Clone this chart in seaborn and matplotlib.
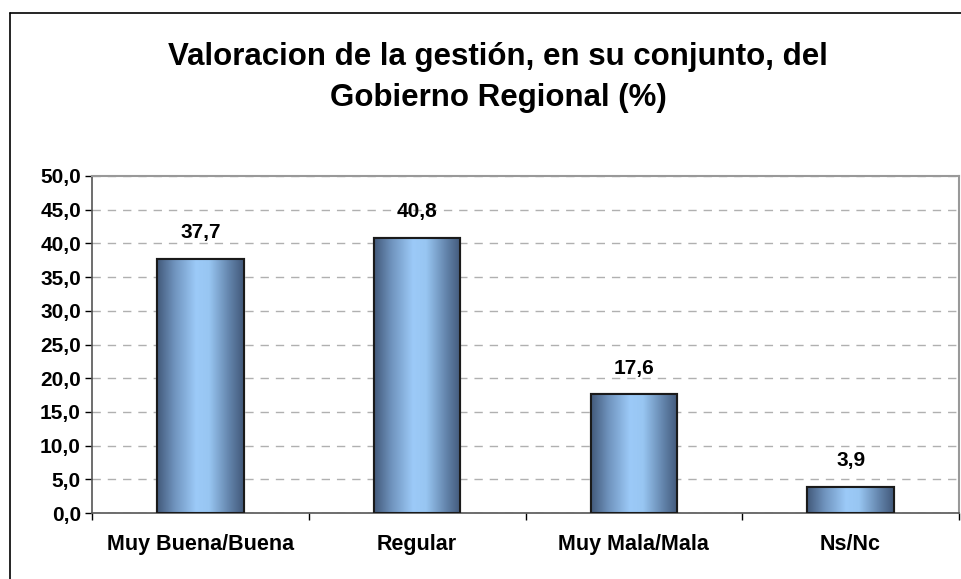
import matplotlib
matplotlib.use("Agg")
import matplotlib.pyplot as plt
import seaborn as sns
import numpy as np
import pandas as pd
from matplotlib.colors import LinearSegmentedColormap
from matplotlib.lines import Line2D

categories = ["Muy Buena/Buena", "Regular", "Muy Mala/Mala", "Ns/Nc"]
values = [37.7, 40.8, 17.6, 3.9]
yticks = [0, 5, 10, 15, 20, 25, 30, 35, 40, 45, 50]
title_lines = ["Valoracion de la gestión, en su conjunto, del", "Gobierno Regional (%)"]

sns.set_style("white")
plt.rcParams['font.family'] = ['Liberation Sans', 'DejaVu Sans']
plt.rcParams['text.color'] = 'black'
plt.rcParams['xtick.color'] = 'black'
plt.rcParams['ytick.color'] = 'black'

fig = plt.figure(figsize=(9.62, 5.79), dpi=100)
ax = fig.add_axes([92/962, 66/579, 867/962, 337/579])

df = pd.DataFrame({"cat": categories, "val": values})
sns.barplot(data=df, x="cat", y="val", ax=ax, width=0.40, color="#7fa8d0",
            edgecolor="#1a1a1a", linewidth=1.5, zorder=3)

cmap = LinearSegmentedColormap.from_list(
    "bar", [(0.0, "#42597a"), (0.2, "#6f93bd"), (0.45, "#9ccaf8"), (0.6, "#98c6f2"),
            (0.85, "#5f7fa6"), (1.0, "#42597a")])
grad = np.linspace(0, 1, 256).reshape(1, -1)
for p in ax.patches:
    x0, y0 = p.get_x(), p.get_y()
    w, h = p.get_width(), p.get_height()
    im = ax.imshow(grad, cmap=cmap, aspect="auto", extent=[x0, x0 + w, y0, y0 + h],
                   zorder=3.5, interpolation="bicubic")
    im.set_clip_path(p)
    ax.add_patch(plt.Rectangle((x0, y0), w, h, fill=False, edgecolor="#1a1a1a",
                               linewidth=1.5, zorder=4))

for i, v in enumerate(values):
    ax.annotate(f"{v:.1f}".replace(".", ","), xy=(i, v), xytext=(0, 15),
                textcoords="offset points", ha="center", va="baseline",
                fontsize=15, fontweight="bold", zorder=5)

ax.set_xlim(-0.5, 3.5)
ax.set_ylim(0, 50)
ax.set_yticks(yticks)
ax.set_yticklabels([f"{t:.1f}".replace(".", ",") for t in yticks],
                   fontsize=15, fontweight="bold")
ax.set_xticks(range(len(categories)))
ax.set_xticklabels(categories, fontsize=15.5, fontweight="bold")
ax.tick_params(axis="x", length=0, pad=15)
ax.tick_params(axis="y", length=5, width=1, direction="out", left=True, pad=3)
ax.set_xticks([-0.5, 0.5, 1.5, 2.5, 3.5], minor=True)
ax.tick_params(axis="x", which="minor", length=5, width=1, direction="out", bottom=True)

ax.set_xlabel("")
ax.set_ylabel("")
ax.yaxis.grid(True, linestyle=(0, (6, 5)), color="#b0b0b0", linewidth=1, zorder=0)
ax.set_axisbelow(True)

for s in ["top", "right"]:
    ax.spines[s].set_color("#999999")
    ax.spines[s].set_linewidth(1.5)
ax.spines["left"].set_color("#555555")
ax.spines["left"].set_linewidth(1.2)
ax.spines["bottom"].set_color("#555555")
ax.spines["bottom"].set_linewidth(1.2)

# title lines: caps centres at ~54 px and ~95 px from the top
fig.text(498/962, 1 - 65/579, title_lines[0], ha="center", va="baseline",
         fontsize=22.5, fontweight="bold")
fig.text(498/962, 1 - 106/579, title_lines[1], ha="center", va="baseline",
         fontsize=22.5, fontweight="bold")

fig.add_artist(Line2D([10/962, 10/962], [0, 1 - 13/579], transform=fig.transFigure,
                      color="black", linewidth=1.2))
fig.add_artist(Line2D([10/962, 1], [1 - 13/579, 1 - 13/579], transform=fig.transFigure,
                      color="black", linewidth=1.2))

fig.savefig("out.png", dpi=100)
